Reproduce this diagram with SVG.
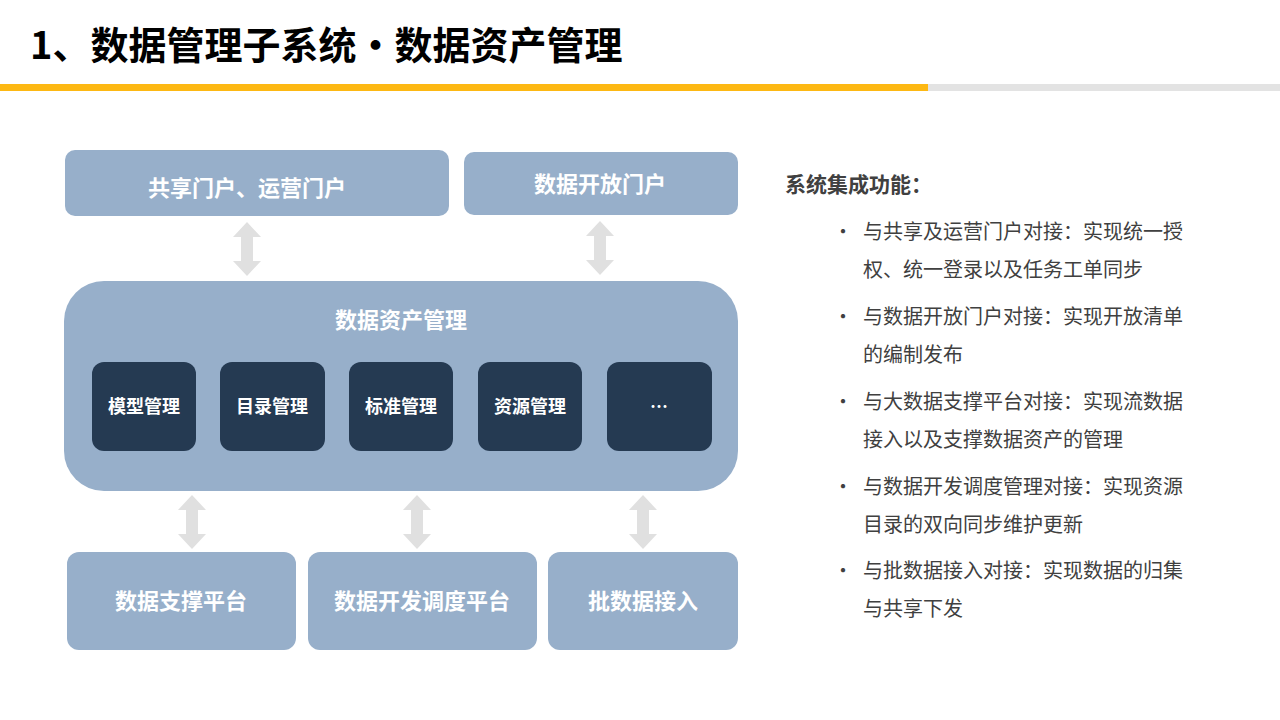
<svg xmlns="http://www.w3.org/2000/svg" xmlns:xlink="http://www.w3.org/1999/xlink" width="1280" height="720" viewBox="0 0 1280 720">
<style>
text{font-family:"Noto Sans CJK SC","Liberation Sans",sans-serif}
.box{fill:#97afca}
.dark{fill:#253a52}
.bl{fill:#fff;font-weight:bold;font-size:22px;text-anchor:middle}
.sm{fill:#fff;font-weight:bold;font-size:18px;text-anchor:middle}
.r{fill:#404040;font-size:20px}
.arr{fill:#e0e0e0}
</style>
<defs>
<path id="da" d="M0,-27 L14,-12 L6,-12 L6,12 L14,12 L0,27 L-14,12 L-6,12 L-6,-12 L-14,-12 Z"/>
</defs>
<rect width="1280" height="720" fill="#fff"/>
<text x="30" y="59" font-size="38" font-weight="bold" fill="#000">1、数据管理子系统·数据资产管理</text>
<rect x="0" y="84" width="928" height="7" fill="#fdb813"/>
<rect x="928" y="84" width="352" height="7" fill="#e3e3e3"/>
<g id="connectors" class="arr">
<use xlink:href="#da" x="247" y="249"/>
<use xlink:href="#da" x="600" y="248"/>
<use xlink:href="#da" x="192" y="522"/>
<use xlink:href="#da" x="417" y="522"/>
<use xlink:href="#da" x="643" y="522"/>
</g>
<g id="portal"><rect class="box" x="65" y="150" width="384" height="66" rx="10"/><text class="bl" x="247" y="196">共享门户、运营门户</text></g>
<g id="open"><rect class="box" x="464" y="152" width="274" height="63" rx="10"/><text class="bl" x="600" y="192">数据开放门户</text></g>
<g id="asset"><rect class="box" x="64" y="281" width="674" height="210" rx="40"/><text class="bl" x="401" y="328">数据资产管理</text></g>
<g id="m1"><rect class="dark" x="92" y="362" width="104" height="89" rx="12"/><text class="sm" x="144" y="413">模型管理</text></g>
<g id="m2"><rect class="dark" x="220" y="362" width="105" height="89" rx="12"/><text class="sm" x="272" y="413">目录管理</text></g>
<g id="m3"><rect class="dark" x="349" y="362" width="104" height="89" rx="12"/><text class="sm" x="401" y="413">标准管理</text></g>
<g id="m4"><rect class="dark" x="478" y="362" width="104" height="89" rx="12"/><text class="sm" x="530" y="413">资源管理</text></g>
<g id="m5"><rect class="dark" x="607" y="362" width="105" height="89" rx="12"/><text class="sm" x="659" y="413">…</text></g>
<g id="b1"><rect class="box" x="67" y="552" width="229" height="98" rx="12"/><text class="bl" x="181" y="609">数据支撑平台</text></g>
<g id="b2"><rect class="box" x="308" y="552" width="229" height="98" rx="12"/><text class="bl" x="422" y="609">数据开发调度平台</text></g>
<g id="b3"><rect class="box" x="548" y="552" width="190" height="98" rx="12"/><text class="bl" x="643" y="609">批数据接入</text></g>
<g id="right">
<text x="785" y="192" font-size="21" font-weight="bold" fill="#404040">系统集成功能：</text>
<g class="r">
<text x="833" y="239">•</text><text x="863" y="239">与共享及运营门户对接：实现统一授</text><text x="863" y="277">权、统一登录以及任务工单同步</text>
<text x="833" y="324">•</text><text x="863" y="324">与数据开放门户对接：实现开放清单</text><text x="863" y="362">的编制发布</text>
<text x="833" y="409">•</text><text x="863" y="409">与大数据支撑平台对接：实现流数据</text><text x="863" y="447">接入以及支撑数据资产的管理</text>
<text x="833" y="494">•</text><text x="863" y="494">与数据开发调度管理对接：实现资源</text><text x="863" y="532">目录的双向同步维护更新</text>
<text x="833" y="578">•</text><text x="863" y="578">与批数据接入对接：实现数据的归集</text><text x="863" y="616">与共享下发</text>
</g>
</g>
</svg>
